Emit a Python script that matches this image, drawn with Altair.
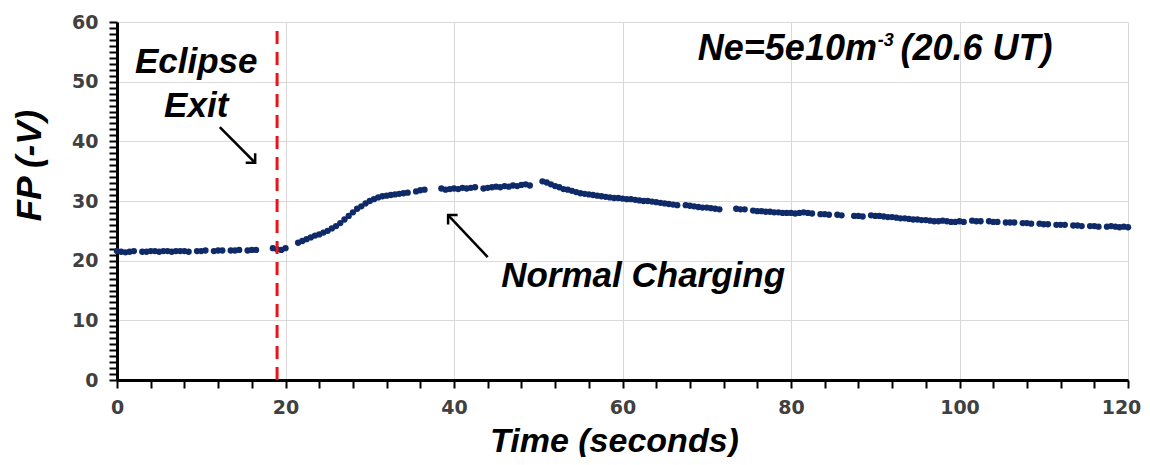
import altair as alt
import pandas as pd

# ---- data (time in s, floating potential in -V) ----
time_s = [
    0, 0.5, 1, 1.5, 2,
    3, 3.5, 4, 4.5, 5, 5.5, 6, 6.5, 7, 7.5, 8, 8.5,
    9.5, 10, 10.5,
    11.5, 12, 12.5,
    13.5, 14, 14.5,
    15.5, 16, 16.5,
    18.5, 19, 19.5, 20,
    21.5, 22, 22.5, 23, 23.5, 24, 24.5, 25,
    25.5, 26, 26.5, 27, 27.5, 28, 28.5, 29,
    29.5, 30, 30.5, 31, 31.5,
    32, 32.5, 33, 33.5, 34, 34.5,
    35.5, 36, 36.5,
    38.5, 39, 39.5, 40, 40.5, 41, 41.5, 42, 42.5,
    43.5, 44, 44.5, 45, 45.5, 46, 46.5, 47, 47.5, 48, 48.5, 49,
    50.5, 51, 51.5, 52, 52.5, 53, 53.5, 54, 54.5, 55,
    55.5, 56, 56.5, 57, 57.5, 58, 58.5, 59, 59.5, 60, 60.5, 61, 61.5, 62, 62.5,
    63, 63.5, 64, 64.5, 65, 65.5, 66, 66.5,
    67.5, 68, 68.5, 69, 69.5, 70, 70.5, 71, 71.5,
    73.5, 74, 74.5,
    75.5, 76, 76.5, 77, 77.5, 78, 78.5, 79, 79.5, 80, 80.5, 81, 81.5, 82, 82.5,
    83.5, 84, 84.5,
    85.5, 86,
    87.5, 88, 88.5,
    89.5, 90, 90.5, 91, 91.5, 92, 92.5, 93, 93.5, 94, 94.5, 95, 95.5, 96, 96.5,
    97, 97.5, 98, 98.5, 99, 99.5, 100, 100.5,
    101.5, 102, 102.5,
    103.5, 104, 104.5,
    105.5, 106, 106.5,
    107.5, 108, 108.5,
    109.5, 110, 110.5,
    111.5, 112, 112.5,
    113.5, 114, 114.5,
    115.5, 116, 116.5,
    117.5, 118, 118.5, 119, 119.5, 120,
]
fp_v = [
    21.6, 21.5, 21.4, 21.5, 21.6,
    21.5, 21.5, 21.6, 21.6, 21.5, 21.6, 21.6, 21.5, 21.6, 21.6, 21.6, 21.5,
    21.6, 21.6, 21.7,
    21.6, 21.7, 21.7,
    21.7, 21.7, 21.8,
    21.7, 21.8, 21.8,
    22.1, 21.9, 21.8, 22.1,
    23.0, 23.3, 23.6, 23.9, 24.2, 24.4, 24.7, 25.0,
    25.4, 25.8, 26.3, 26.9, 27.5, 28.1, 28.7, 29.1,
    29.6, 30.0, 30.3, 30.6, 30.8,
    30.9, 31.0, 31.1, 31.2, 31.3, 31.4,
    31.6, 31.8, 31.9,
    32.1, 31.9, 32.0, 32.1, 32.0, 32.2, 32.1, 32.2, 32.3,
    32.1, 32.2, 32.3, 32.4, 32.3, 32.5, 32.4, 32.6, 32.5, 32.7, 32.8, 32.6,
    33.3, 33.1, 32.8, 32.5, 32.3, 32.0, 31.9, 31.7, 31.5, 31.3,
    31.2, 31.1, 31.0, 30.9, 30.8, 30.7, 30.6, 30.5, 30.5, 30.4, 30.3, 30.3, 30.2, 30.1, 30.0,
    30.0, 29.9, 29.8, 29.7, 29.6, 29.5, 29.4, 29.3,
    29.3, 29.2, 29.1, 29.0, 28.9, 28.9, 28.8, 28.7, 28.6,
    28.7, 28.6, 28.6,
    28.4, 28.3, 28.3, 28.2, 28.2, 28.1, 28.1, 28.0, 28.0, 28.0, 27.9, 28.0, 28.1, 28.0, 27.9,
    27.8, 27.8, 27.7,
    27.7, 27.6,
    27.5, 27.5, 27.4,
    27.6, 27.5, 27.5, 27.4, 27.3, 27.3, 27.2, 27.1, 27.1, 27.0, 26.9, 26.9, 26.8, 26.8, 26.7,
    26.6, 26.6, 26.7, 26.6, 26.5, 26.5, 26.6, 26.5,
    26.7, 26.6, 26.6,
    26.6, 26.5, 26.5,
    26.4, 26.4, 26.4,
    26.3, 26.3, 26.2,
    26.2, 26.1, 26.1,
    26.0, 26.0, 26.0,
    25.9, 25.9, 25.8,
    25.8, 25.8, 25.7,
    25.7, 25.8, 25.7, 25.6, 25.7, 25.6,
]

eclipse_t = [19]
eclipse_fp = [0]
eclipse_fp_top = [58.5]

# annotation texts and their anchor points (data coordinates)
label_text = ["Eclipse", "Exit", "Normal Charging"]
label_t = [9.4, 9.4, 45.6]
label_fp = [51.4, 44.1, 15.6]
label_align = ["center", "center", "left"]

arrow_t = [12.2, 44.0]
arrow_fp = [42.4, 20.6]
arrow_t_tip = [16.4, 39.3]
arrow_fp_tip = [36.4, 27.65]

ne_main = "Ne=5e10m"
ne_sup = "-3"
ne_rest = "(20.6 UT)"
ne_t = [90.2, 90.3, 93.0]
ne_fp = 53.6

x_major = list(range(0, 121, 4))
y_major = list(range(0, 61, 1))

# ---- styling ----
NAVY = "#0f2a68"
RED = "#e8141a"
TITLE_FONT = "Liberation Sans"
LABEL_FONT = "DejaVu Sans"

x_axis = alt.Axis(
    values=x_major,
    labelExpr="datum.value % 20 === 0 ? datum.label : ''",
    labelOffset={"condition": {"test": "datum.value === 120", "value": -7}, "value": 0},
    title="Time (seconds)",
    titleX=497, titleY=61, titleAlign="center", titleBaseline="middle",
    titleFontSize=34,
    grid=True,
    gridOpacity={"condition": {"test": "datum.value % 20 === 0", "value": 1}, "value": 0},
    labelFlush=False, labelOverlap=False,
    labelPadding=10,
)
y_axis = alt.Axis(
    values=y_major,
    labelExpr="datum.value % 10 === 0 ? datum.label : ''",
    title="FP (-V)",
    titleX=-88, titleY=143, titleAlign="center", titleBaseline="middle", titleAngle=-90,
    grid=True,
    gridOpacity={"condition": {"test": "datum.value % 10 === 0", "value": 1}, "value": 0},
    labelFlush=False, labelOverlap=False,
    labelPadding=11,
)

xs = alt.Scale(domain=[0, 120], nice=False, zero=False)
ys = alt.Scale(domain=[0, 60], nice=False, zero=False)


def X(field="t"):
    return alt.X(f"{field}:Q", scale=xs, axis=x_axis)


def Y(field="fp"):
    return alt.Y(f"{field}:Q", scale=ys, axis=y_axis)


df = pd.DataFrame({"t": time_s, "fp": fp_v})
points = alt.Chart(df).mark_circle(size=40, color=NAVY, opacity=1).encode(x=X(), y=Y())

eclipse_df = pd.DataFrame({"t": eclipse_t, "fp": eclipse_fp, "fp2": eclipse_fp_top})
eclipse = alt.Chart(eclipse_df).mark_rule(color=RED, strokeWidth=3, strokeDash=[13, 8]).encode(
    x=X(), y=Y(), y2="fp2:Q"
)

lab_df = pd.DataFrame({"t": label_t, "fp": label_fp, "txt": label_text, "al": label_align})
text_kw = dict(font=TITLE_FONT, fontStyle="italic", fontWeight="bold", fontSize=35,
               color="black", baseline="alphabetic")
labels_c = alt.Chart(lab_df[lab_df.al == "center"]).mark_text(align="center", **text_kw).encode(
    x=X(), y=Y(), text="txt:N")
labels_l = alt.Chart(lab_df[lab_df.al == "left"]).mark_text(align="left", **text_kw).encode(
    x=X(), y=Y(), text="txt:N")

arr_df = pd.DataFrame({"t": arrow_t, "fp": arrow_fp, "t2": arrow_t_tip, "fp2": arrow_fp_tip})
arrows = alt.Chart(arr_df).mark_rule(color="black", strokeWidth=2.5).encode(
    x=X(), y=Y(), x2="t2:Q", y2="fp2:Q")
head_df1 = pd.DataFrame({"t": arrow_t_tip[:1], "fp": arrow_fp_tip[:1]})
head_df2 = pd.DataFrame({"t": arrow_t_tip[1:], "fp": arrow_fp_tip[1:]})
chevron = "M-1,1L0,0L1,1"
head1 = alt.Chart(head_df1).mark_point(shape=chevron, filled=False, color="black", strokeWidth=2.5,
                                         size=180, angle=135, opacity=1).encode(x=X(), y=Y())
head2 = alt.Chart(head_df2).mark_point(shape=chevron, filled=False, color="black", strokeWidth=2.5,
                                         size=180, angle=315, opacity=1).encode(x=X(), y=Y())

ne_df_main = pd.DataFrame({"t": ne_t[:1], "fp": [ne_fp], "txt": [ne_main]})
ne_df_sup = pd.DataFrame({"t": ne_t[1:2], "fp": [ne_fp], "txt": [ne_sup]})
ne_df_rest = pd.DataFrame({"t": ne_t[2:], "fp": [ne_fp], "txt": [ne_rest]})
ne_kw = dict(font=TITLE_FONT, fontStyle="italic", fontWeight="bold", color="black", baseline="alphabetic")
ne1 = alt.Chart(ne_df_main).mark_text(align="right", fontSize=36, **ne_kw).encode(x=X(), y=Y(), text="txt:N")
ne2 = alt.Chart(ne_df_sup).mark_text(align="left", fontSize=18, dy=-14, **ne_kw).encode(x=X(), y=Y(), text="txt:N")
ne3 = alt.Chart(ne_df_rest).mark_text(align="left", fontSize=36, **ne_kw).encode(x=X(), y=Y(), text="txt:N")

chart = alt.layer(
    points, eclipse, arrows, head1, head2, labels_c, labels_l, ne1, ne2, ne3
).properties(
    width=1011, height=358,
    autosize=alt.AutoSizeParams(type="none"),
    padding={"left": 109, "top": 14, "right": 14, "bottom": 77},
    background="white",
).configure_view(
    stroke=None
).configure_axis(
    domainColor="black", domainWidth=3,
    tickColor="black", tickWidth=2, tickSize=8,
    gridColor="#d9d9d9", gridWidth=1,
    labelFont=LABEL_FONT, labelFontWeight="bold", labelFontSize=19, labelColor="#404040",
    titleFont=TITLE_FONT, titleFontWeight="bold", titleFontStyle="italic", titleFontSize=35,
    titleColor="black",
)

chart.save("out.html", embed_options={"renderer": "svg", "actions": False})
